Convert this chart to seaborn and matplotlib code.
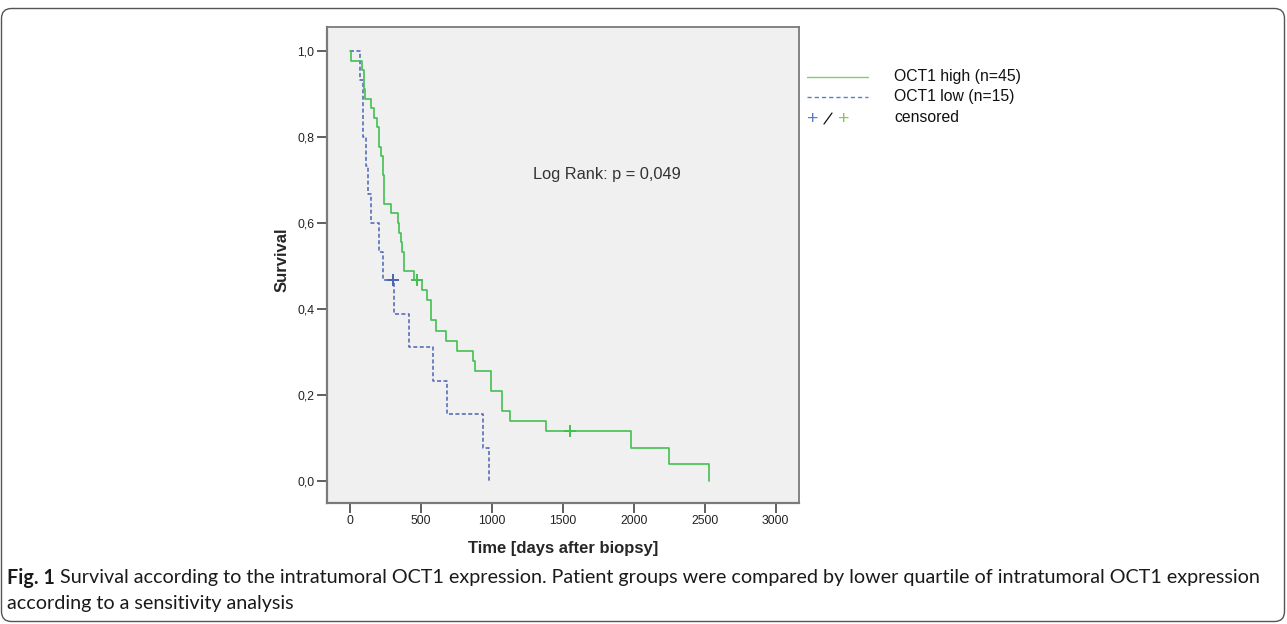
import matplotlib
matplotlib.use("Agg")
import matplotlib.pyplot as plt
import seaborn as sns
import pandas as pd
from matplotlib.lines import Line2D
from matplotlib.patches import FancyBboxPatch
from matplotlib.transforms import IdentityTransform

# ---------------- data ----------------
high_death_days = [5, 87, 96, 96, 106, 146, 171, 192, 202, 202, 216, 230, 230,
                   240, 240, 240, 289, 336, 345, 357, 369, 380, 380, 451,
                   510, 545, 569, 569, 604, 674, 756, 869, 881, 992, 992,
                   1073, 1073, 1128, 1381, 1983, 2246, 2530]
high_censor_days = [474, 1550, 1550]
low_death_days = [67, 94, 94, 111, 129, 146, 204, 230, 312, 418, 587, 681, 939, 980]
low_censor_days = [305]
group_labels = ["OCT1 high (n=45)", "OCT1 low (n=15)"]
censor_label = "censored"
x_ticks = [0, 500, 1000, 1500, 2000, 2500, 3000]
y_ticks = [0.0, 0.2, 0.4, 0.6, 0.8, 1.0]
y_tick_labels = ["0,0", "0,2", "0,4", "0,6", "0,8", "1,0"]
p_text = "Log Rank: p = 0,049"
x_label = "Time [days after biopsy]"
y_label = "Survival"
cap_bold = "Fig. 1"
cap_line1 = ("Survival according to the intratumoral OCT1 expression. Patient groups were "
             "compared by lower quartile of intratumoral OCT1 expression")
cap_line2 = "according to a sensitivity analysis"


def kaplan_meier(deaths, censors):
    times = sorted(set(deaths) | set(censors))
    at_risk = len(deaths) + len(censors)
    s = 1.0
    st, ss, ct, cs = [0.0], [1.0], [], []
    for t in times:
        d = deaths.count(t)
        c = censors.count(t)
        if d:
            s *= (at_risk - d) / at_risk
            st.append(t)
            ss.append(s)
        if c:
            ct.append(t)
            cs.append(s)
        at_risk -= d + c
    return st, ss, ct, cs


W, H = 1287, 624
sns.set_style("white")
plt.rcParams["font.family"] = ["Liberation Sans", "DejaVu Sans"]

fig = plt.figure(figsize=(W / 100, H / 100), dpi=100)
fig.patch.set_facecolor("white")

# axes in pixel geometry
L, R, T, B = 327, 799, 27, 503
ax = fig.add_axes([L / W, 1 - B / H, (R - L) / W, (B - T) / H])
ax.set_facecolor("#f0f0f0")

green = "#44bf52"
blue = "#4a62b4"

hs_t, hs_s, hc_t, hc_s = kaplan_meier(high_death_days, high_censor_days)
ls_t, ls_s, lc_t, lc_s = kaplan_meier(low_death_days, low_censor_days)

high_df = pd.DataFrame({"time": hs_t, "surv": hs_s})
low_df = pd.DataFrame({"time": ls_t, "surv": ls_s})

sns.lineplot(data=low_df, x="time", y="surv", ax=ax, color=blue, lw=1.1,
             linestyle=(0, (2.6, 1.6)), drawstyle="steps-post",
             estimator=None, sort=False)
sns.lineplot(data=high_df, x="time", y="surv", ax=ax, color=green, lw=1.2,
             drawstyle="steps-post", estimator=None, sort=False)
sns.scatterplot(x=lc_t, y=lc_s, ax=ax, marker="+", s=70, color=blue, linewidth=1.4)
sns.scatterplot(x=hc_t, y=hc_s, ax=ax, marker="+", s=70, color=green, linewidth=1.4)

px_per_day = (775.7 - 350) / 3000
ax.set_xlim((L - 350) / px_per_day, (R - 350) / px_per_day)
ax.set_ylim((481 - B) / 430, (481 - T) / 430)
ax.set_xticks(x_ticks)
ax.set_xticklabels([str(v) for v in x_ticks])
ax.set_yticks(y_ticks)
ax.set_yticklabels(y_tick_labels)
ax.tick_params(axis="both", direction="out", length=7, width=1.2, color="#444444",
               labelsize=8.8, labelcolor="#222222", pad=2,
               bottom=True, left=True)
for side, sp in ax.spines.items():
    sp.set_visible(True)
    sp.set_color("#7a7a7a")
    sp.set_linewidth(1.6 if side in ("left", "bottom") else 1.3)

ax.set_xlabel(x_label, fontsize=12, fontweight="bold", va="center")
ax.set_ylabel(y_label, fontsize=12, fontweight="bold", va="center")
ax.xaxis.set_label_coords(0.5, (B - 548) / (B - T))
ax.yaxis.set_label_coords((282 - L) / (R - L), (B - 260) / (B - T))

ax.text((607 - L) / (R - L), (B - 175) / (B - T), p_text, transform=ax.transAxes,
        ha="center", va="center", fontsize=11.8, color="#333333")

# ---------------- legend (outside, right) ----------------
def fx(x):
    return x / W


def fy(y):
    return 1 - y / H


leg_green = "#7fd068"
leg_blue = "#5a7ec4"
fig.add_artist(Line2D([fx(807), fx(868)], [fy(77), fy(77)], color=leg_green, lw=1.0,
                      transform=fig.transFigure))
fig.add_artist(Line2D([fx(807), fx(868)], [fy(97), fy(97)], color=leg_blue, lw=1.0,
                      linestyle=(0, (3, 2.2)), transform=fig.transFigure))
fig.text(fx(813), fy(119), "+", color=leg_blue, fontsize=14, ha="center", va="center")
fig.add_artist(Line2D([fx(824), fx(832)], [fy(124), fy(113)], color="#111111", lw=0.9,
                      transform=fig.transFigure))
fig.text(fx(844), fy(119), "+", color="#7fd03a", fontsize=14, ha="center", va="center")
for yy, lab in zip([77, 97, 118], group_labels + [censor_label]):
    fig.text(fx(894), fy(yy), lab, fontsize=11.3, ha="left", va="center", color="#111111")

# ---------------- caption ----------------
cap_font = "Lato"
renderer = fig.canvas.get_renderer()
fs = 14
tb = fig.text(fx(7), fy(578), cap_bold, fontsize=fs, fontweight="bold",
              family=cap_font, ha="left", va="center", color="#1a1a1a")
tr = fig.text(0, fy(578), " " + cap_line1, fontsize=fs, family=cap_font,
              ha="left", va="center", color="#1a1a1a")
wb = tb.get_window_extent(renderer).width
wr = tr.get_window_extent(renderer).width
scale = (1265 - 7) / (wb + wr)
fs = fs * scale
tb.set_fontsize(fs)
tr.set_fontsize(fs)
wb = tb.get_window_extent(renderer).width
tr.set_x(fx(7 + wb))
fig.text(fx(7), fy(603), cap_line2, fontsize=fs, family=cap_font,
         ha="left", va="center", color="#1a1a1a")

# ---------------- outer rounded frame ----------------
frame = FancyBboxPatch((1.5, 2.5), 1283, 613, boxstyle="round,pad=0,rounding_size=10",
                       transform=IdentityTransform(), fill=False, edgecolor="#555555",
                       lw=1.0)
fig.add_artist(frame)

fig.savefig("out.png", dpi=100, facecolor="white")
